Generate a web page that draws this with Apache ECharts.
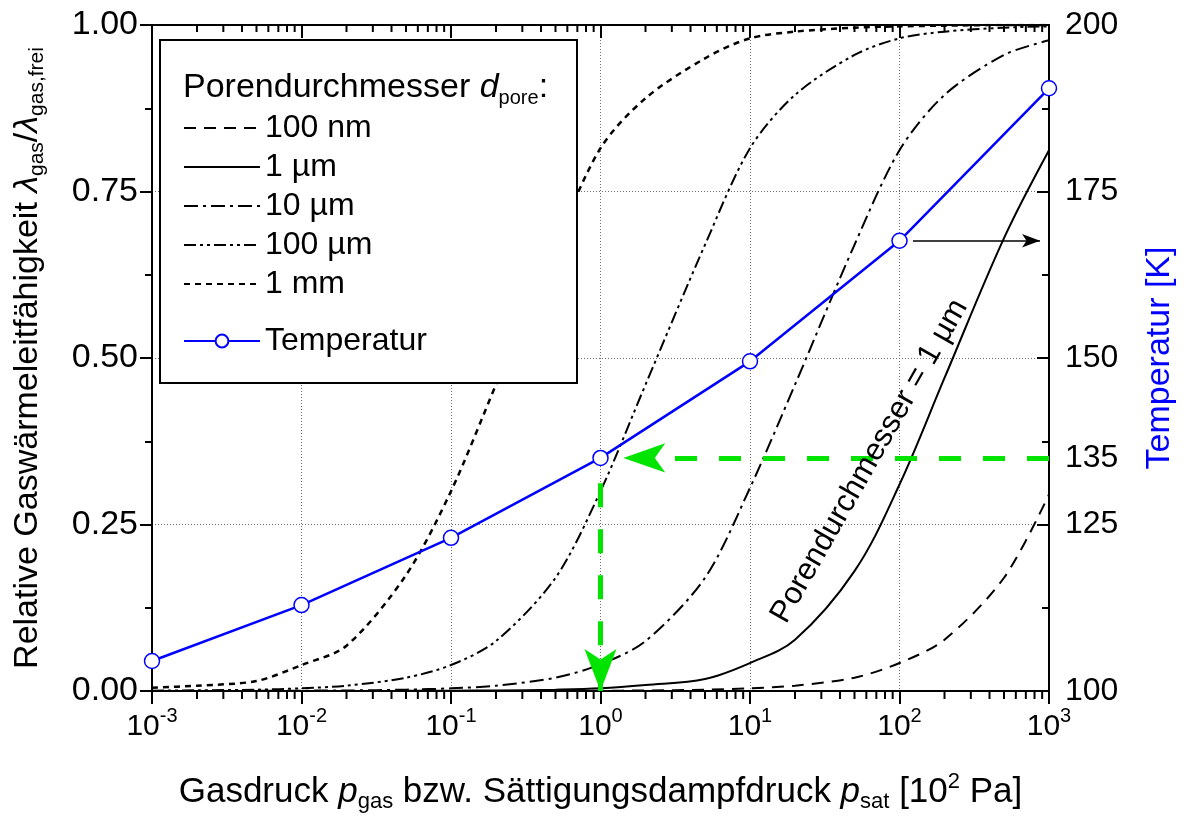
<!DOCTYPE html>
<html><head><meta charset="utf-8">
<script src="https://cdn.jsdelivr.net/npm/echarts@6/dist/echarts.min.js"></script>
<style>html,body{margin:0;padding:0;background:#fff}#c{width:1188px;height:823px}</style>
</head><body><div id="c"></div>
<script>
// ---- data ----
const pressure = [0.001, 0.002, 0.005, 0.01, 0.02, 0.05, 0.1, 0.2, 0.5, 1, 2, 5, 10, 20, 50, 100, 200, 500, 1000];
const pore100nm = [0, 0, 0, 0, 0, 0, 0, 0.0001, 0.0002, 0.0004, 0.0008, 0.002, 0.004, 0.008, 0.02, 0.042, 0.077, 0.17, 0.295];
const pore1um   = [0, 0, 0, 0.0001, 0.0001, 0.0002, 0.0005, 0.0008, 0.002, 0.004, 0.009, 0.018, 0.042, 0.077, 0.18, 0.31, 0.47, 0.68, 0.812];
const pore10um  = [0.0001, 0.0001, 0.0002, 0.0005, 0.0008, 0.002, 0.004, 0.008, 0.02, 0.04, 0.075, 0.17, 0.305, 0.46, 0.67, 0.812, 0.895, 0.955, 0.977];
const pore100um = [0.0005, 0.001, 0.002, 0.004, 0.008, 0.02, 0.039, 0.075, 0.17, 0.30, 0.46, 0.67, 0.815, 0.895, 0.955, 0.98, 0.99, 0.996, 0.998];
const pore1mm   = [0.005, 0.008, 0.015, 0.039, 0.068, 0.174, 0.30, 0.46, 0.67, 0.815, 0.89, 0.95, 0.98, 0.99, 0.996, 0.998, 0.999, 1.0, 1.0];
const tempPressure = [0.001, 0.01, 0.1, 1, 10, 100, 1000];
const temperature  = [104.5, 112.9, 123.0, 135.0, 149.5, 167.6, 190.5];
const rightExtraLabel = 135;
const minorTickValues = [];
for (let e = -3; e < 3; e++) for (let m = 2; m <= 9; m++) minorTickValues.push(m * Math.pow(10, e));

const FONT = 'Liberation Sans, Arial, sans-serif';
const pair = (xs, ys) => xs.map((x, i) => [x, ys[i]]);

const chart = echarts.init(document.getElementById('c'), null, {renderer: 'canvas'});
const green = '#00e400';
const gridLine = {color: '#6e6e6e', width: 1, type: [1, 2]};

const curve = (name, data, type, width, smooth) => ({
  name, type: 'line', data, xAxisIndex: 0, yAxisIndex: 0,
  symbol: 'none', showSymbol: false, smooth: smooth, silent: true,
  lineStyle: {color: '#000', width: width || 2, type: type},
  itemStyle: {color: '#000'}, z: 2, animation: false
});

const option = {
  animation: false,
  textStyle: {fontFamily: FONT},
  grid: {left: 152, right: 139, top: 25, bottom: 132, containLabel: false},
  xAxis: [
    {
      type: 'log', logBase: 10, min: 0.001, max: 1000, position: 'bottom',
      axisLine: {show: true, lineStyle: {color: '#000', width: 2}},
      axisTick: {show: true, inside: false, length: 13, lineStyle: {color: '#000', width: 2}},
      axisLabel: {
        fontSize: 30, color: '#000', fontFamily: FONT, margin: 15,
        formatter: v => '10{s|' + Math.round(Math.log10(v)) + '}',
        rich: {s: {fontSize: 20, fontFamily: FONT, color: '#000', padding: [0, 0, 22, 0]}}
      },
      splitLine: {show: true, lineStyle: gridLine},
      name: 'Gasdruck {i|p}{sub|gas} bzw. Sättigungsdampfdruck {i|p}{sub|sat} [10{sup|2} Pa]',
      nameLocation: 'middle', nameGap: 80,
      nameTextStyle: {
        fontSize: 35, color: '#000', fontFamily: FONT,
        rich: {
          i: {fontSize: 35, fontStyle: 'italic', fontFamily: FONT, color: '#000'},
          sub: {fontSize: 22, fontFamily: FONT, color: '#000', padding: [20, 0, 0, 0]},
          sup: {fontSize: 22, fontFamily: FONT, color: '#000', padding: [0, 0, 20, 0]}
        }
      }
    },
    {
      type: 'log', logBase: 10, min: 0.001, max: 1000, position: 'top',
      axisLine: {show: true, lineStyle: {color: '#000', width: 2}},
      axisTick: {show: true, inside: true, length: 13, lineStyle: {color: '#000', width: 2}},
      axisLabel: {show: false}, splitLine: {show: false}
    }
  ],
  yAxis: [
    {
      type: 'value', min: 0, max: 1, interval: 0.25, position: 'left',
      axisLine: {show: true, lineStyle: {color: '#000', width: 2}},
      axisTick: {show: true, inside: false, length: 12, lineStyle: {color: '#000', width: 2}},
      minorTick: {show: true, splitNumber: 2, length: 7, lineStyle: {color: '#000', width: 2}},
      axisLabel: {fontSize: 34, color: '#000', fontFamily: FONT, margin: 14, formatter: v => v.toFixed(2)},
      splitLine: {show: true, lineStyle: gridLine},
      name: 'Relative Gaswärmeleitfähigkeit {i|λ}{sub|gas}/{i|λ}{sub|gas,frei}',
      nameLocation: 'middle', nameRotate: 90, nameGap: 104,
      nameTextStyle: {
        fontSize: 34, color: '#000', fontFamily: FONT,
        rich: {
          i: {fontSize: 34, fontStyle: 'italic', fontFamily: FONT, color: '#000'},
          sub: {fontSize: 21, fontFamily: FONT, color: '#000', padding: [20, 0, 0, 0]}
        }
      }
    },
    {
      type: 'value', min: 100, max: 200, interval: 25, position: 'right',
      axisLine: {show: true, lineStyle: {color: '#000', width: 2}},
      axisTick: {show: true, inside: true, length: 12, lineStyle: {color: '#000', width: 2}},
      minorTick: {show: true, splitNumber: 2, length: 7, lineStyle: {color: '#000', width: 2}},
      axisLabel: {fontSize: 32, color: '#000', fontFamily: FONT, margin: 16},
      splitLine: {show: false},
      name: 'Temperatur [K]', nameLocation: 'middle', nameRotate: 90, nameGap: 94,
      nameTextStyle: {fontSize: 34, color: '#0000ff', fontFamily: FONT}
    },
    {
      type: 'value', min: 100, max: 200, interval: 5, position: 'right',
      axisLine: {show: false}, axisTick: {show: false}, splitLine: {show: false},
      axisLabel: {fontSize: 32, color: '#000', fontFamily: FONT, margin: 16, interval: 0,
        formatter: v => (Math.abs(v - rightExtraLabel) < 1e-6 ? String(rightExtraLabel) : '')}
    }
  ],
  legend: [
    {
      data: ['100 nm', '1 µm', '10 µm', '100 µm', '1 mm'],
      orient: 'vertical', left: 183, top: 112, padding: 0,
      itemWidth: 76, itemHeight: 16, itemGap: 7, selectedMode: false, z: 10,
      itemStyle: {opacity: 0},
      textStyle: {fontSize: 32, color: '#000', fontFamily: FONT, lineHeight: 30}
    },
    {
      data: ['Temperatur'],
      orient: 'vertical', left: 183, top: 325, padding: 0,
      itemWidth: 76, itemHeight: 16, selectedMode: false, z: 10,
      textStyle: {fontSize: 32, color: '#000', fontFamily: FONT, lineHeight: 30}
    }
  ],
  series: [
    curve('100 nm', pair(pressure, pore100nm), [12, 8], 2, 0.3),
    curve('1 µm', pair(pressure, pore1um), 'solid', 2, 0.35),
    curve('10 µm', pair(pressure, pore10um), [14, 5, 3, 5], 2, 0.3),
    curve('100 µm', pair(pressure, pore100um), [12, 4, 3, 4, 3, 4], 2, 0.3),
    curve('1 mm', pair(pressure, pore1mm), [6, 5], 2.5, 0.3),
    {
      name: 'Temperatur', type: 'line', xAxisIndex: 0, yAxisIndex: 1,
      data: pair(tempPressure, temperature),
      symbol: 'circle', symbolSize: 15, showSymbol: true,
      lineStyle: {color: '#0000ff', width: 2.5},
      itemStyle: {color: '#ffffff', borderColor: '#0000ff', borderWidth: 1.5},
      z: 3, silent: true,
      markLine: {
        silent: true, animation: false, symbol: ['none', 'arrow'],
        label: {show: false},
        emphasis: {disabled: true},
        data: [
          [{coord: [1000, 135], symbol: 'none', lineStyle: {color: green, width: 5, type: [22, 22]}},
           {coord: [1.42, 135], symbol: 'arrow', symbolSize: [22, 42]}],
          [{coord: [1, 131.2], symbol: 'none', lineStyle: {color: green, width: 5, type: [24, 22]}},
           {coord: [1, 100], symbol: 'arrow', symbolSize: [24, 42]}],
          [{coord: [123, 167.6], symbol: 'none', lineStyle: {color: '#000', width: 1.5, type: 'solid'}},
           {coord: [871, 167.6], symbol: 'arrow', symbolSize: [10, 18]}]
        ]
      }
    },
    {
      type: 'custom', xAxisIndex: 0, yAxisIndex: 0, silent: true, clip: false, z: 4,
      data: minorTickValues.map(v => [v, 0]),
      renderItem: (params, api) => {
        const pb = api.coord([api.value(0), 0]);
        const pt = api.coord([api.value(0), 1]);
        return {type: 'group', children: [
          {type: 'line', shape: {x1: pb[0], y1: pb[1], x2: pb[0], y2: pb[1] + 8}, style: {stroke: '#000', lineWidth: 2}},
          {type: 'line', shape: {x1: pt[0], y1: pt[1], x2: pt[0], y2: pt[1] + 7}, style: {stroke: '#000', lineWidth: 2}}
        ]};
      }
    }
  ]
};
chart.setOption(option);

// annotations placed through the chart's own coordinate conversion
const annot = chart.convertToPixel({xAxisIndex: 0, yAxisIndex: 0}, [63, 0.345]);
chart.setOption({
  graphic: [
    {type: 'rect', z: 5, shape: {x: 160, y: 40, width: 417, height: 343},
     style: {fill: '#fff', stroke: '#000', lineWidth: 2}},
    {type: 'text', z: 6, x: 183, y: 88,
     style: {text: 'Porendurchmesser {i|d}{s|pore}:', fontSize: 34, fontFamily: FONT, fill: '#000',
       verticalAlign: 'middle',
       rich: {i: {fontSize: 34, fontStyle: 'italic', fontFamily: FONT, fill: '#000'},
              s: {fontSize: 20, fontFamily: FONT, fill: '#000', padding: [20, 0, 0, 0]}}}},
    {type: 'text', z: 6, x: annot[0], y: annot[1], rotation: 60.3 * Math.PI / 180,
     style: {text: 'Porendurchmesser = 1 µm', fontSize: 31, fontFamily: FONT, fill: '#000',
       align: 'center', verticalAlign: 'middle'}}
  ]
});
</script>
</body></html>
